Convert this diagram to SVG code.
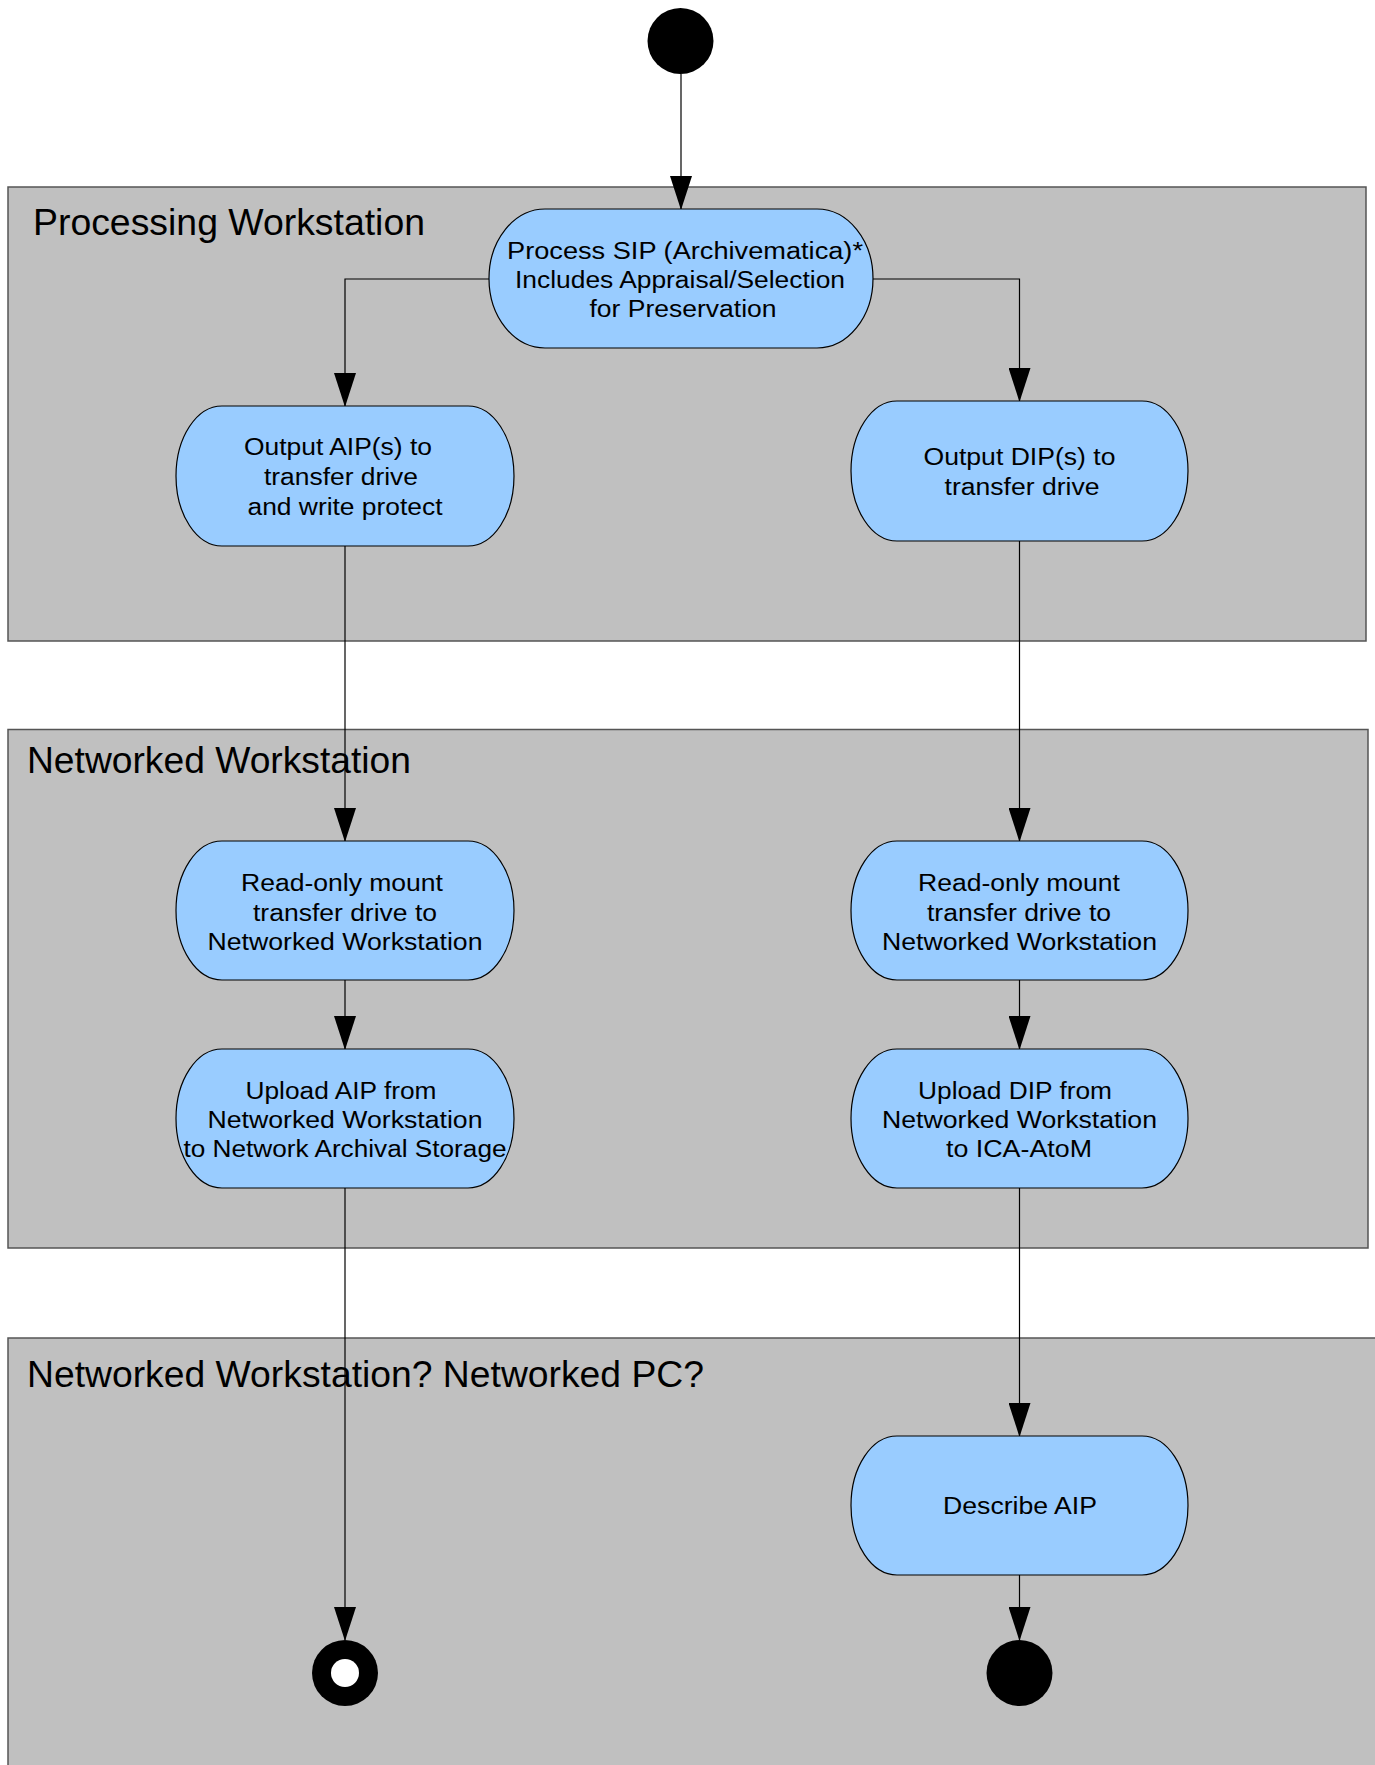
<svg xmlns="http://www.w3.org/2000/svg" width="1375" height="1765" viewBox="0 0 1375 1765">
<style>
.lane{fill:#c0c0c0;stroke:#555;stroke-width:1.5}
.ltitle{font-family:"Liberation Sans",Arial,sans-serif;font-size:37.8px;fill:#000}
.node{fill:#99ccff;stroke:#000;stroke-width:1.2}
.nt{font-family:"Liberation Sans",Arial,sans-serif;font-size:23.5px;fill:#000;text-anchor:middle}
.conn{fill:none;stroke:#000;stroke-width:1.2;marker-end:url(#arr)}
</style>
<defs>
<marker id="arr" markerUnits="userSpaceOnUse" markerWidth="34" markerHeight="22" viewBox="0 0 34 22" refX="33" refY="11" orient="auto">
<path d="M0,0 L34,11 L0,22 z" fill="#000"/>
</marker>
</defs>
<rect width="1375" height="1765" fill="#fff"/>
<g id="lane-processing">
<rect class="lane" x="8" y="187" width="1358" height="454"/>
<text class="ltitle" x="33" y="235" textLength="392" lengthAdjust="spacingAndGlyphs">Processing Workstation</text>
</g>
<g id="lane-networked">
<rect class="lane" x="8" y="729.5" width="1360" height="518.5"/>
<text class="ltitle" x="27" y="773" textLength="384" lengthAdjust="spacingAndGlyphs">Networked Workstation</text>
</g>
<g id="lane-networked-pc">
<rect class="lane" x="8" y="1338" width="1380" height="500"/>
<text class="ltitle" x="27" y="1387" textLength="677" lengthAdjust="spacingAndGlyphs">Networked Workstation? Networked PC?</text>
</g>
<g id="connectors">
<path class="conn" d="M681,74 L681,209"/>
<path class="conn" d="M489,279 L345,279 L345,406"/>
<path class="conn" d="M873,279 L1019.5,279 L1019.5,401"/>
<path class="conn" d="M345,546 L345,841"/>
<path class="conn" d="M1019.5,541 L1019.5,841"/>
<path class="conn" d="M345,980 L345,1049"/>
<path class="conn" d="M1019.5,980 L1019.5,1049"/>
<path class="conn" d="M345,1188 L345,1640"/>
<path class="conn" d="M1019.5,1188 L1019.5,1436"/>
<path class="conn" d="M1019.5,1575 L1019.5,1640"/>
</g>
<g id="start">
<circle cx="680.5" cy="41" r="33" fill="#000"/>
</g>
<g id="process-sip">
<rect class="node" x="489" y="209" width="384" height="139" rx="56" ry="69.5"/>
<text class="nt" x="685" y="259" textLength="356" lengthAdjust="spacingAndGlyphs">Process SIP (Archivematica)*</text>
<text class="nt" x="680" y="288" textLength="330" lengthAdjust="spacingAndGlyphs">Includes Appraisal/Selection</text>
<text class="nt" x="683" y="317" textLength="187" lengthAdjust="spacingAndGlyphs">for Preservation</text>
</g>
<g id="output-aip">
<rect class="node" x="176" y="406" width="338" height="140" rx="46" ry="70"/>
<text class="nt" x="338" y="455" textLength="188" lengthAdjust="spacingAndGlyphs">Output AIP(s) to</text>
<text class="nt" x="341" y="485" textLength="154" lengthAdjust="spacingAndGlyphs">transfer drive</text>
<text class="nt" x="345" y="515" textLength="195" lengthAdjust="spacingAndGlyphs">and write protect</text>
</g>
<g id="output-dip">
<rect class="node" x="851" y="401" width="337" height="140" rx="46" ry="70"/>
<text class="nt" x="1019.5" y="465" textLength="192" lengthAdjust="spacingAndGlyphs">Output DIP(s) to</text>
<text class="nt" x="1022" y="495" textLength="155" lengthAdjust="spacingAndGlyphs">transfer drive</text>
</g>
<g id="mount-aip">
<rect class="node" x="176" y="841" width="338" height="139" rx="46" ry="69.5"/>
<text class="nt" x="342" y="891" textLength="202" lengthAdjust="spacingAndGlyphs">Read-only mount</text>
<text class="nt" x="345" y="920.5" textLength="184" lengthAdjust="spacingAndGlyphs">transfer drive to</text>
<text class="nt" x="345" y="950" textLength="275" lengthAdjust="spacingAndGlyphs">Networked Workstation</text>
</g>
<g id="mount-dip">
<rect class="node" x="851" y="841" width="337" height="139" rx="46" ry="69.5"/>
<text class="nt" x="1019" y="891" textLength="202" lengthAdjust="spacingAndGlyphs">Read-only mount</text>
<text class="nt" x="1019" y="920.5" textLength="184" lengthAdjust="spacingAndGlyphs">transfer drive to</text>
<text class="nt" x="1019.5" y="950" textLength="275" lengthAdjust="spacingAndGlyphs">Networked Workstation</text>
</g>
<g id="upload-aip">
<rect class="node" x="176" y="1049" width="338" height="139" rx="46" ry="69.5"/>
<text class="nt" x="341" y="1099" textLength="191" lengthAdjust="spacingAndGlyphs">Upload AIP from</text>
<text class="nt" x="345" y="1128" textLength="275" lengthAdjust="spacingAndGlyphs">Networked Workstation</text>
<text class="nt" x="345" y="1157" textLength="323" lengthAdjust="spacingAndGlyphs">to Network Archival Storage</text>
</g>
<g id="upload-dip">
<rect class="node" x="851" y="1049" width="337" height="139" rx="46" ry="69.5"/>
<text class="nt" x="1015" y="1099" textLength="194" lengthAdjust="spacingAndGlyphs">Upload DIP from</text>
<text class="nt" x="1019.5" y="1128" textLength="275" lengthAdjust="spacingAndGlyphs">Networked Workstation</text>
<text class="nt" x="1019" y="1157" textLength="146" lengthAdjust="spacingAndGlyphs">to ICA-AtoM</text>
</g>
<g id="describe-aip">
<rect class="node" x="851" y="1436" width="337" height="139" rx="46" ry="69.5"/>
<text class="nt" x="1020" y="1514" textLength="154" lengthAdjust="spacingAndGlyphs">Describe AIP</text>
</g>
<g id="end-aip">
<circle cx="345" cy="1673" r="33" fill="#000"/>
<circle cx="345" cy="1673" r="14" fill="#fff"/>
</g>
<g id="end-dip">
<circle cx="1019.5" cy="1673" r="33" fill="#000"/>
</g>
</svg>
